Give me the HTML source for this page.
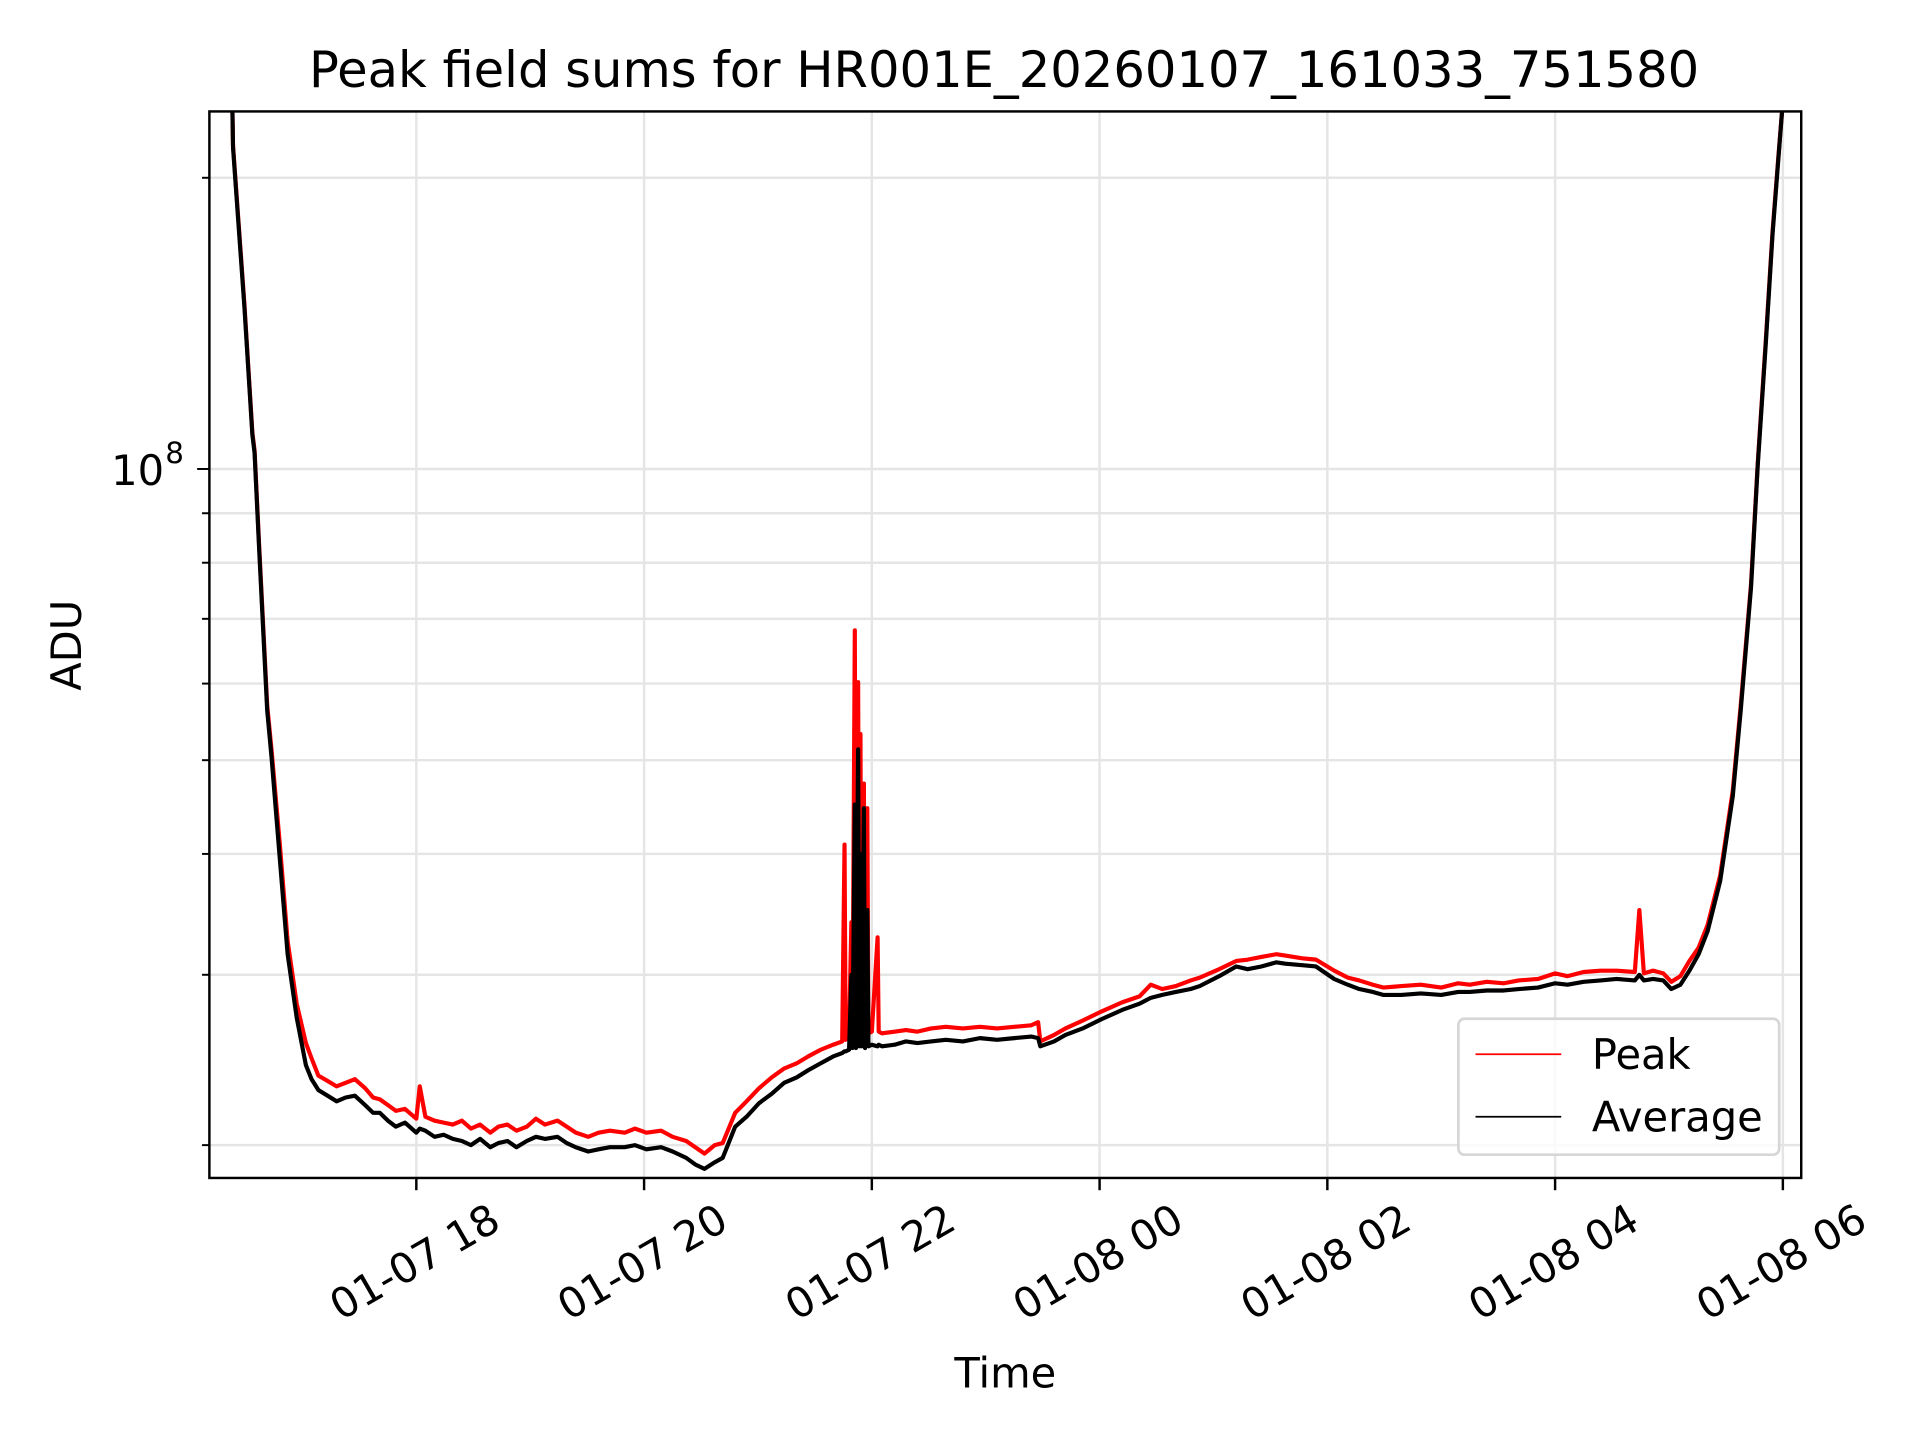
<!DOCTYPE html>
<html><head><meta charset="utf-8"><style>
html,body{margin:0;padding:0;background:#fff;}
svg{display:block;font-family:"DejaVu Sans","Liberation Sans",sans-serif;}
</style></head><body>
<svg id="chart" width="1920" height="1440" viewBox="0 0 1568 1176" xmlns="http://www.w3.org/2000/svg">
<rect width="1568" height="1176" fill="#fff"/>
<text x="820" y="71" font-size="40.5" text-anchor="middle">Peak field sums for HR001E_20260107_161033_751580</text>
<text x="821" y="1133" font-size="34" text-anchor="middle">Time</text>
<text transform="translate(66,527) rotate(-90)" font-size="34" text-anchor="middle">ADU</text>
<g id="grid"></g>
<g id="series" clip-path="url(#clip)"></g>
<defs><clipPath id="clip"><rect x="171" y="91" width="1300" height="871"/></clipPath></defs>
<rect x="171" y="91" width="1300" height="871" fill="none" stroke="#000" stroke-width="2"/>
<g id="ticks"></g>
<g>
<rect x="1191" y="832" width="262" height="111" rx="5" fill="#fff" fill-opacity="0.8" stroke="#d6d6d6" stroke-width="2.2"/>
<line x1="1205" y1="861" x2="1275" y2="861" stroke="#f00" stroke-width="1.4"/>
<text x="1300" y="873" font-size="34">Peak</text>
<line x1="1205" y1="912" x2="1275" y2="912" stroke="#000" stroke-width="1.4"/>
<text x="1300" y="924" font-size="34">Average</text>
</g>
</svg>
<script>
// hours since 01-07 00:00
const hours = [16.18,16.37,16.39,16.49,16.56,16.58,16.62,16.69,16.73,16.80,16.87,16.95,17.03,17.08,17.14,17.22,17.30,17.38,17.46,17.55,17.62,17.68,17.75,17.82,17.90,18.0,18.03,18.08,18.16,18.24,18.32,18.40,18.48,18.56,18.65,18.72,18.80,18.88,18.97,19.05,19.13,19.24,19.32,19.40,19.51,19.60,19.70,19.83,19.92,20.02,20.15,20.25,20.37,20.45,20.53,20.62,20.69,20.80,20.90,21.01,21.12,21.23,21.34,21.44,21.55,21.66,21.74,21.76,21.77,21.80,21.82,21.83,21.85,21.86,21.88,21.89,21.90,21.91,21.93,21.94,21.96,21.97,22.0,22.05,22.06,22.09,22.2,22.3,22.4,22.52,22.65,22.8,22.95,23.1,23.25,23.40,23.46,23.48,23.60,23.70,23.85,24.02,24.2,24.35,24.45,24.55,24.67,24.80,24.88,25.05,25.20,25.30,25.42,25.55,25.63,25.78,25.90,26.06,26.18,26.28,26.40,26.49,26.65,26.82,27.0,27.15,27.25,27.40,27.55,27.68,27.85,28.0,28.11,28.25,28.40,28.54,28.70,28.74,28.78,28.86,28.95,29.02,29.10,29.18,29.26,29.34,29.45,29.56,29.63,29.72,29.78,29.85,29.91,29.96,30.0,30.05,30.16];
// values in millions of ADU
const averageM = [300,300,215,147,108.5,103.9,82.3,56.3,50.1,39.7,31.5,27.1,24.2,23.4,22.8,22.5,22.2,22.4,22.5,22.0,21.6,21.6,21.2,20.9,21.1,20.6,20.8,20.7,20.4,20.5,20.3,20.2,20.0,20.3,19.9,20.1,20.2,19.9,20.2,20.4,20.3,20.4,20.1,19.9,19.7,19.8,19.9,19.9,20.0,19.8,19.9,19.7,19.4,19.1,18.9,19.2,19.4,20.9,21.4,22.1,22.6,23.2,23.5,23.9,24.3,24.7,24.9,25.0,25.0,25.1,30.0,25.2,45.0,25.2,51.3,25.3,40.0,25.3,44.6,25.2,35.0,25.3,25.4,25.3,25.4,25.3,25.4,25.6,25.5,25.6,25.7,25.6,25.8,25.7,25.8,25.9,25.8,25.3,25.6,26.0,26.4,27.0,27.6,28.0,28.4,28.6,28.8,29.0,29.2,29.9,30.6,30.4,30.6,30.9,30.8,30.7,30.6,29.7,29.3,29.0,28.8,28.6,28.6,28.7,28.6,28.8,28.8,28.9,28.9,29.0,29.1,29.4,29.3,29.5,29.6,29.7,29.6,30.0,29.6,29.7,29.6,29.0,29.3,30.3,31.5,33.3,37.5,45.9,56.3,75.4,100.9,135,175,209,240,300,300];
const peakM = [300,300,216,148,109,104.5,83,57,51,41.1,32.5,28,25.5,24.6,23.6,23.3,23.0,23.2,23.4,22.9,22.4,22.3,22.0,21.7,21.8,21.3,23.0,21.4,21.2,21.1,21.0,21.2,20.8,21.0,20.6,20.9,21.0,20.7,20.9,21.3,21.0,21.2,20.9,20.6,20.4,20.6,20.7,20.6,20.8,20.6,20.7,20.4,20.2,19.9,19.6,20.0,20.1,21.6,22.2,22.9,23.5,24.0,24.3,24.7,25.1,25.4,25.6,40.9,25.7,26.0,34.0,26.0,68.1,26.1,60.2,26.0,53.2,26.1,47.3,26.0,44.6,26.1,26.2,32.8,26.2,26.1,26.2,26.3,26.2,26.4,26.5,26.4,26.5,26.4,26.5,26.6,26.8,25.6,26.0,26.4,26.9,27.5,28.1,28.5,29.3,29.0,29.2,29.6,29.8,30.4,31.0,31.1,31.3,31.5,31.4,31.2,31.1,30.3,29.8,29.6,29.3,29.1,29.2,29.3,29.1,29.4,29.3,29.5,29.4,29.6,29.7,30.1,29.9,30.2,30.3,30.3,30.2,35.0,30.1,30.3,30.1,29.5,29.9,31.0,32.0,33.8,38.0,46.5,57,76,101.5,136,176,210,240,300,300];
const xTickHours = [18,20,22,24,26,28,30];
const xTickLabels = ["01-07 18","01-07 20","01-07 22","01-08 00","01-08 02","01-08 04","01-08 06"];
const yMajorM = [100];
const yMinorM = [20,30,40,50,60,70,80,90,200];

const NS = "http://www.w3.org/2000/svg";
const X0 = 171, X1 = 1471, Y0 = 91, Y1 = 962;
function xs(h){ return 340 + (h - 18) * 93; }
function ys(m){ return 383 - Math.log10(m / 100) * 790; }
function mk(tag, attrs, parent){ const e = document.createElementNS(NS, tag); for (const k in attrs) e.setAttribute(k, attrs[k]); parent.appendChild(e); return e; }

const grid = document.getElementById('grid');
const ticks = document.getElementById('ticks');
xTickHours.forEach((h, i) => {
  const x = xs(h);
  const g = mk('line', {x1:x, x2:x, y1:Y0, y2:Y1, stroke:'#e5e5e5', 'stroke-width':2}, grid);
  
  
  const t = mk('line', {x1:x, x2:x, y1:Y1, y2:Y1+10, stroke:'#000', 'stroke-width':2}, ticks);
  
  
  const lb = mk('text', {x:0, y:0, 'font-size':34, 'text-anchor':'middle', 'dominant-baseline':'middle', transform:`translate(${x},${1033}) rotate(-30)`}, ticks);
  lb.textContent = xTickLabels[i];
  
  
});
yMinorM.concat(yMajorM).forEach(m => {
  const y = ys(m);
  const major = yMajorM.includes(m);
  const g = mk('line', {x1:X0, x2:X1, y1:y, y2:y, stroke:'#e5e5e5', 'stroke-width':2}, grid);
  
  
  const t = mk('line', {x1:X0 - (major?10:6), x2:X0, y1:y, y2:y, stroke:'#000', 'stroke-width':1.6}, ticks);
  
  
  if (major) {
    const lb = mk('text', {x:134, y:y + 13, 'font-size':34, 'text-anchor':'end'}, ticks);
    lb.textContent = '10';
    
    
    const sup = mk('text', {x:135, y:y - 5, 'font-size':24, 'text-anchor':'start'}, ticks);
    sup.textContent = String(Math.round(Math.log10(m * 1e6)));
    
    
  }
});

const series = document.getElementById('series');
function path(vals){ return vals.map((v, i) => (i ? 'L' : 'M') + xs(hours[i]).toFixed(1) + ',' + ys(v).toFixed(1)).join(''); }
const pk = mk('path', {d:path(peakM), fill:'none', stroke:'#f00', 'stroke-width':3.4, 'stroke-linejoin':'round'}, series);


const av = mk('path', {d:path(averageM), fill:'none', stroke:'#000', 'stroke-width':3.4, 'stroke-linejoin':'round'}, series);


</script>
</body></html>
